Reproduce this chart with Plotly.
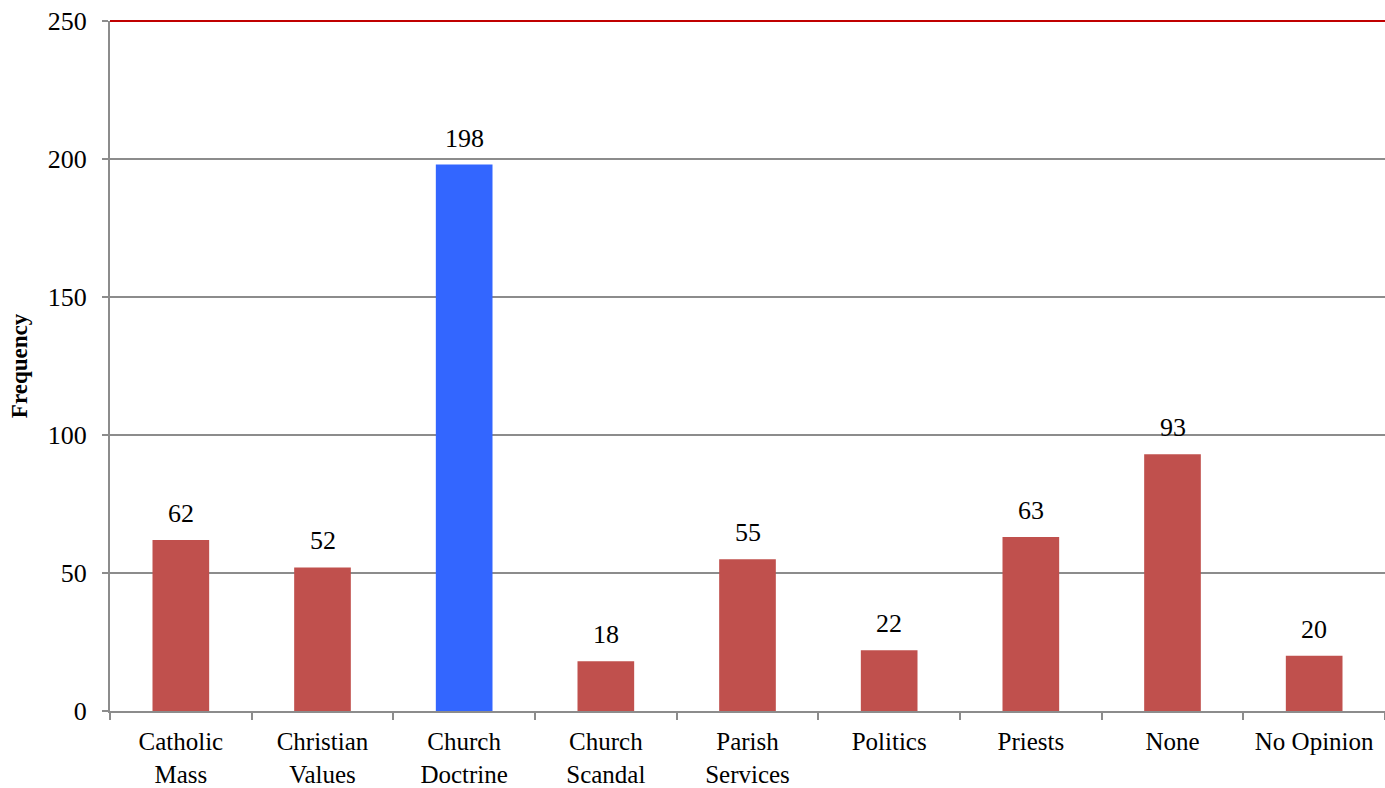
import plotly.graph_objects as go

categories = ["Catholic<br>Mass", "Christian<br>Values", "Church<br>Doctrine", "Church<br>Scandal",
              "Parish<br>Services", "Politics", "Priests", "None", "No Opinion"]
frequency = [62, 52, 198, 18, 55, 22, 63, 93, 20]
highlight = "Church<br>Doctrine"

red = "#C0504D"
blue = "#3366FF"
bar_colors = [blue if c == highlight else red for c in categories]
serif = "Liberation Serif"

fig = go.Figure()
fig.add_trace(go.Bar(
    x=categories,
    y=frequency,
    marker=dict(color=bar_colors, line=dict(width=0)),
    hoverinfo="x+y",
))

#value labels sit a little above each bar
for c, v in zip(categories, frequency):
    fig.add_annotation(x=c, y=v, text=str(v), showarrow=False,
                       yanchor="bottom", yshift=10,
                       font=dict(family=serif, size=26, color="black"))

#red line along the top of the plot
fig.add_shape(type="line", xref="paper", yref="paper", x0=0, x1=1, y0=1, y1=1,
              line=dict(color="#C00000", width=2), layer="above")

fig.update_layout(
    width=1385,
    height=788,
    margin=dict(l=110, r=0, t=21, b=75),
    plot_bgcolor="white",
    paper_bgcolor="white",
    bargap=0.6,
    showlegend=False,
    font=dict(family=serif, size=26, color="black"),
)
fig.update_xaxes(
    showline=True, linecolor="#8C8C8C", linewidth=2,
    ticks="outside", tickson="boundaries", ticklen=7, tickcolor="#8C8C8C", tickwidth=2,
    tickfont=dict(family=serif, size=25), showgrid=False, ticklabelstandoff=7,
)
fig.update_yaxes(
    range=[0, 250], dtick=50,
    showline=True, linecolor="#8C8C8C", linewidth=2,
    ticks="outside", ticklen=6, tickcolor="#8C8C8C", tickwidth=2,
    showgrid=True, gridcolor="#8C8C8C", gridwidth=1.5,
    tickfont=dict(family=serif, size=26), zeroline=False, ticklabelstandoff=10,
    title=dict(text="<b>Frequency</b>", font=dict(family=serif, size=23), standoff=14),
)

fig.write_html("out.html", config={"displayModeBar": False},
               post_script="document.body.style.margin='0';")
